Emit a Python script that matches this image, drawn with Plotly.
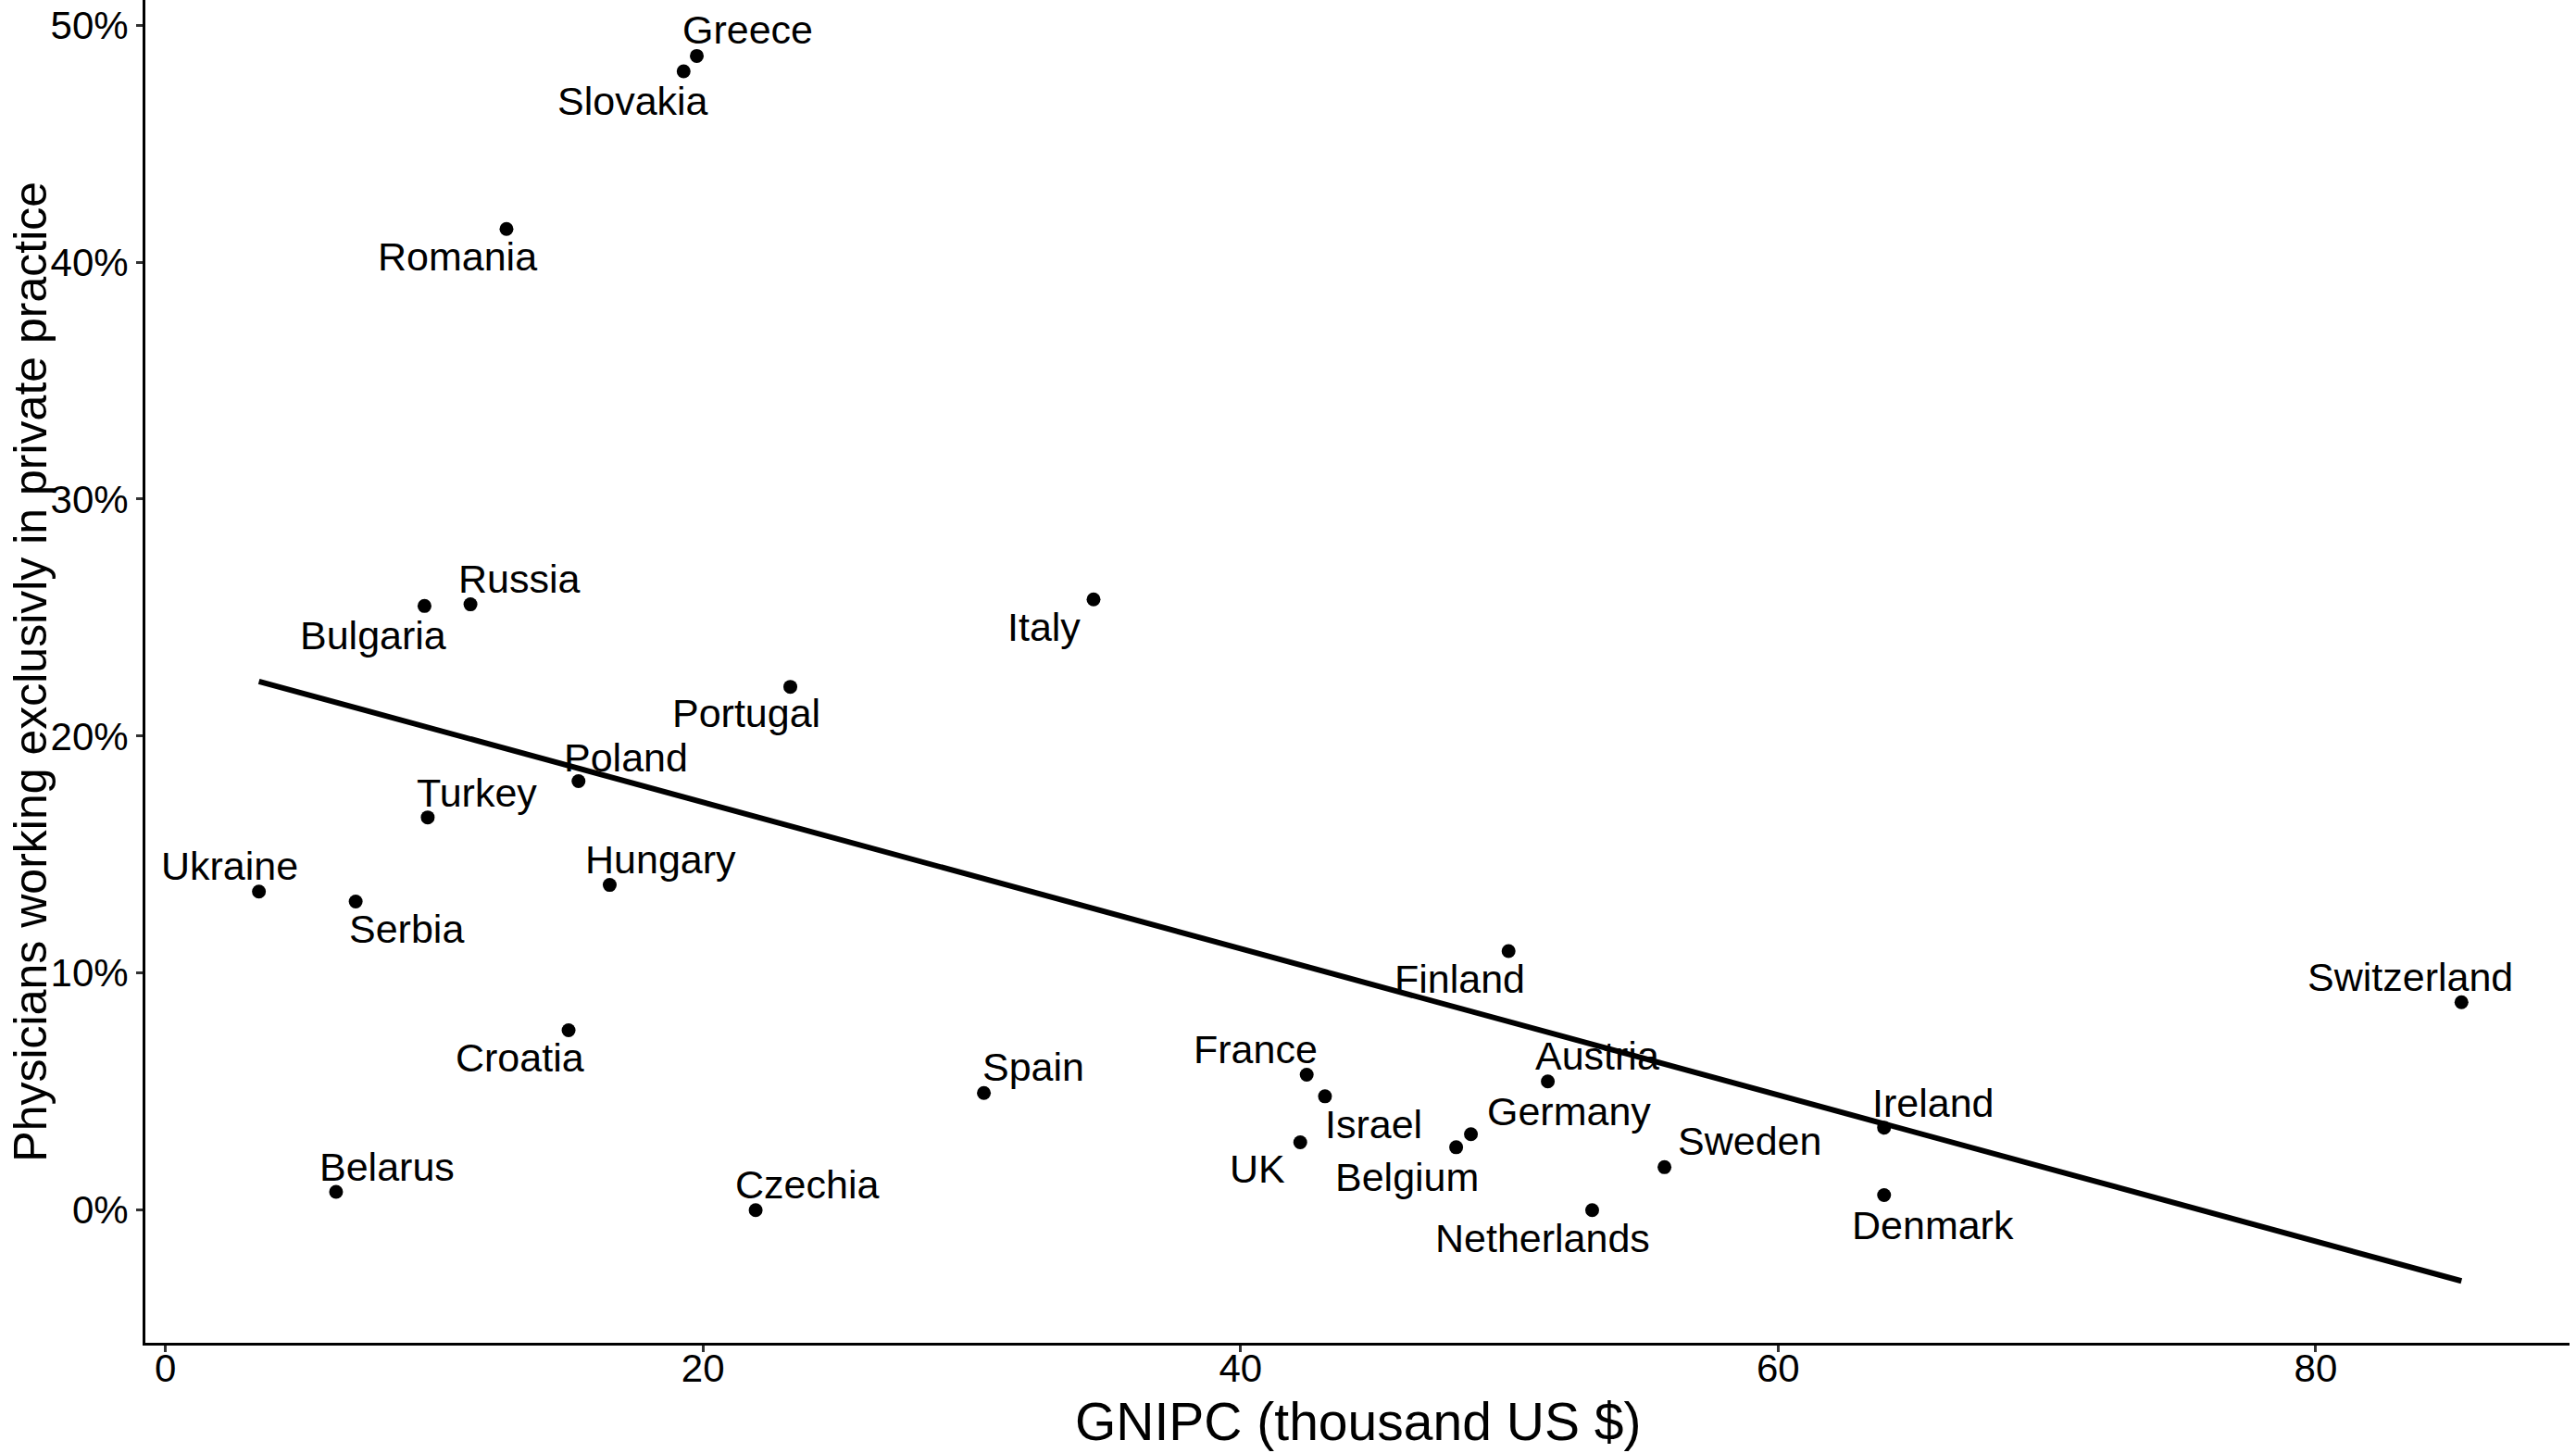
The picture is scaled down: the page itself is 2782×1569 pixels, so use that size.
import numpy as np
import plotly.graph_objects as go

countries = ["Greece", "Slovakia", "Romania", "Russia", "Bulgaria", "Italy", "Portugal",
             "Poland", "Turkey", "Ukraine", "Serbia", "Hungary", "Croatia", "Belarus",
             "Czechia", "Spain", "France", "Israel", "UK", "Belgium", "Germany", "Austria",
             "Finland", "Netherlands", "Sweden", "Ireland", "Denmark", "Switzerland"]
gnipc = [19.77, 19.28, 12.69, 11.35, 9.64, 34.53, 23.25,
         15.37, 9.76, 3.48, 7.08, 16.53, 15.00, 6.35,
         21.96, 30.45, 42.46, 43.14, 42.22, 48.02, 48.57, 51.43,
         49.97, 53.08, 55.77, 63.94, 63.94, 85.42]
private_pct = [48.7, 48.05, 41.4, 25.56, 25.49, 25.77, 22.08,
               18.1, 16.57, 13.44, 13.02, 13.72, 7.59, 0.77,
               0.0, 4.94, 5.71, 4.8, 2.86, 2.65, 3.2, 5.43,
               10.93, 0.0, 1.81, 3.48, 0.63, 8.77]

x_ticks = [0, 20, 40, 60, 80]
y_ticks = [0, 10, 20, 30, 40, 50]
y_tick_labels = ["0%", "10%", "20%", "30%", "40%", "50%"]

x_title = "GNIPC (thousand US $)"
y_title = "Physicians working exclusivly in private practice"

# label offsets (px): (dx right, dy up)
label_offsets = {
    "Greece": (55, 28), "Slovakia": (-55, -32), "Romania": (-53, -30), "Russia": (53, 28),
    "Bulgaria": (-55, -32), "Italy": (-53, -30), "Portugal": (-48, -28), "Poland": (51, 25),
    "Turkey": (53, 27), "Ukraine": (-32, 28), "Serbia": (55, -30), "Hungary": (55, 28),
    "Croatia": (-53, -30), "Belarus": (55, 27), "Czechia": (55, 28), "Spain": (53, 28),
    "France": (-55, 28), "Israel": (53, -30), "UK": (-46, -28), "Belgium": (-53, -32),
    "Germany": (106, 25), "Austria": (53, 28), "Finland": (-53, -30), "Netherlands": (-53, -30),
    "Sweden": (92, 28), "Ireland": (53, 27), "Denmark": (53, -32), "Switzerland": (-55, 27),
}

FONT = "Liberation Sans, Arial, sans-serif"

xa = np.array(gnipc)
ya = np.array(private_pct)
slope, intercept = np.polyfit(xa, ya, 1)
line_x = [xa.min(), xa.max()]
line_y = [intercept + slope * v for v in line_x]

fig = go.Figure()
fig.add_trace(go.Scatter(x=line_x, y=line_y, mode="lines",
                         line=dict(color="black", width=6), hoverinfo="skip"))
fig.add_trace(go.Scatter(x=gnipc, y=private_pct, mode="markers",
                         marker=dict(color="black", size=15), text=countries))

for c, xv, yv in zip(countries, gnipc, private_pct):
    dx, dy = label_offsets[c]
    fig.add_annotation(x=xv, y=yv, text=c, showarrow=False, xshift=dx, yshift=dy,
                       font=dict(family=FONT, size=43, color="black"))

fig.add_annotation(x=0.5, y=-0.0586, xref="paper", yref="paper", text=x_title,
                   showarrow=False, xanchor="center", yanchor="middle",
                   font=dict(family=FONT, size=57, color="black"))
fig.add_annotation(x=-0.0475, y=0.5, xref="paper", yref="paper", text=y_title,
                   showarrow=False, xanchor="center", yanchor="middle", textangle=-90,
                   font=dict(family=FONT, size=50, color="black"))

fig.update_layout(
    width=2782, height=1569,
    margin=dict(l=157, r=7, t=0, b=119, autoexpand=False),
    paper_bgcolor="white", plot_bgcolor="white",
    showlegend=False,
    font=dict(family=FONT, color="black"),
)
fig.update_xaxes(range=[-0.744, 89.44], tickvals=x_ticks, ticktext=[str(v) for v in x_ticks],
                 showgrid=False, zeroline=False, showline=True, linecolor="black", linewidth=3,
                 ticks="outside", ticklen=7, tickwidth=2.5, tickcolor="#333333", automargin=False,
                 ticklabelstandoff=-18,
                 tickfont=dict(family=FONT, size=42, color="black"))
fig.update_yaxes(range=[-5.6, 51.06], tickvals=y_ticks, ticktext=y_tick_labels,
                 showgrid=False, zeroline=False, showline=True, linecolor="black", linewidth=3,
                 ticks="outside", ticklen=7, tickwidth=2.5, tickcolor="#333333", automargin=False,
                 tickfont=dict(family=FONT, size=42, color="black"))

fig.write_html("out.html", config={"displayModeBar": False},
               post_script="document.body.style.margin='0';")
